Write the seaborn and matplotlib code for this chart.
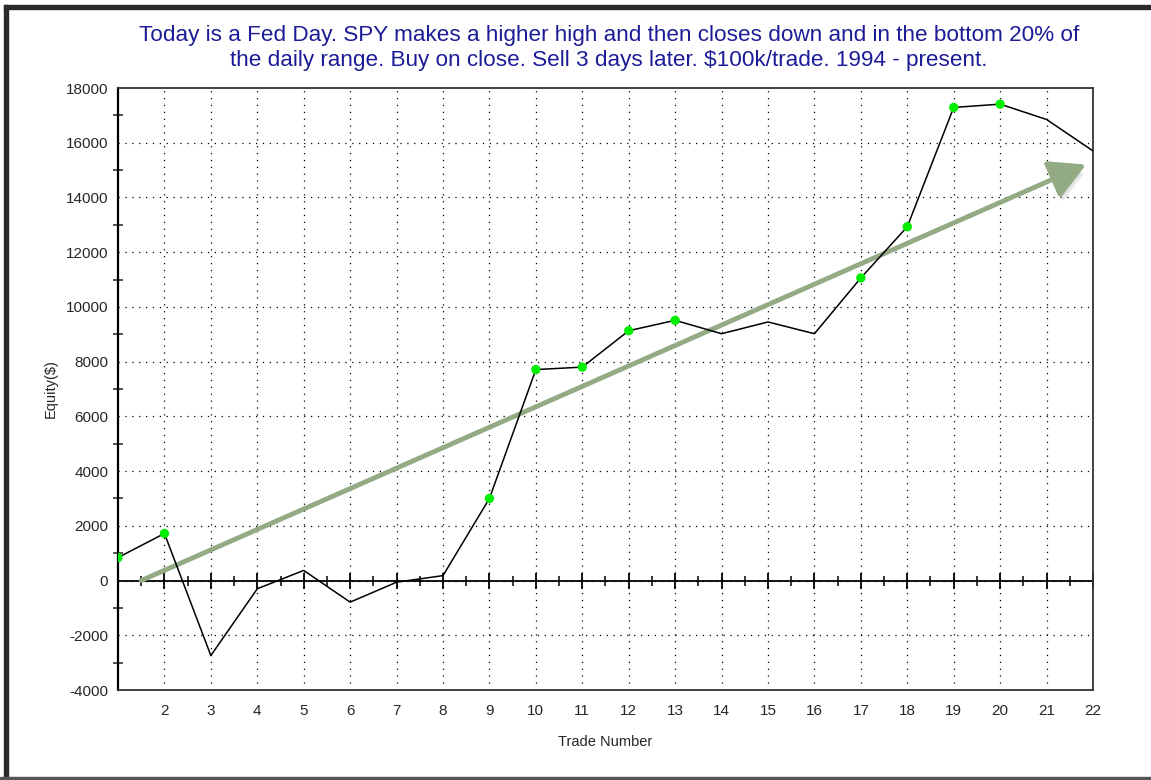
import numpy as np
import pandas as pd
import seaborn as sns
import matplotlib.pyplot as plt
import matplotlib.patheffects as pe
from matplotlib.patches import Rectangle

# Equity curve per trade
trades = list(range(1, 23))
equity = [840, 1720, -2740, -300, 370, -790, -60, 180, 3000, 7710, 7800,
          9130, 9510, 9020, 9450, 9020, 11060, 12930, 17290, 17410, 16850, 15700]
# trend arrow (start / end in data units)
arrow_start = (1.5, 0)
arrow_end = (21.85, 15200)

title = ("Today is a Fed Day. SPY makes a higher high and then closes down and in the bottom 20% of\n"
         "the daily range. Buy on close. Sell 3 days later. $100k/trade. 1994 - present.")

df = pd.DataFrame({"trade": trades, "equity": equity})
df["high"] = df["equity"] >= df["equity"].cummax()

sns.set_style("white")
plt.rcParams["font.family"] = ["Liberation Sans", "DejaVu Sans"]
plt.rcParams["axes.unicode_minus"] = False

fig = plt.figure(figsize=(11.51, 7.8), dpi=100)
ax = fig.add_axes([118 / 1151, 1 - 690 / 780, (1093 - 118) / 1151, (690 - 88) / 780])

ax.set_xlim(1, 22)
ax.set_ylim(-4000, 18000)

# dotted grid
for x in range(2, 22):
    ax.axvline(x, color="black", lw=0.9, ls=(0, (1, 4.5)), zorder=0)
for y in range(-2000, 18000, 2000):
    ax.axhline(y, color="black", lw=0.9, ls=(0, (1, 4.5)), zorder=0)

# zero line with tick marks
ax.axhline(0, color="black", lw=1.3, zorder=1)
ax.plot(np.arange(2, 22.5, 1), np.zeros(21), ls="none", marker="|", ms=11, mew=1.3, color="black", zorder=1)
ax.plot(np.arange(1.5, 22, 1), np.zeros(21), ls="none", marker="|", ms=7, mew=1.1, color="black", zorder=1)

# trend arrow with soft shadow
ax.annotate("", xy=arrow_end, xytext=arrow_start,
            arrowprops=dict(arrowstyle="-|>,head_length=1.1,head_width=0.6", lw=3.5,
                            color="#93ab84", mutation_scale=20, shrinkA=0, shrinkB=0,
                            path_effects=[pe.SimplePatchShadow(offset=(2, -5), shadow_rgbFace="#888888", alpha=0.18),
                                          pe.SimplePatchShadow(offset=(1, -3), shadow_rgbFace="#888888", alpha=0.15),
                                          pe.Normal()]),
            zorder=2)

sns.lineplot(data=df, x="trade", y="equity", color="black", lw=1.1, ax=ax, zorder=3)
sns.scatterplot(data=df[df["high"]], x="trade", y="equity", color="#00ee00", s=45,
                edgecolor="none", ax=ax, zorder=4)

ax.set_xticks(range(2, 23))
ax.set_yticks(range(-4000, 18001, 2000))
ax.set_yticks(range(-3000, 18000, 2000), minor=True)
ax.tick_params(axis="x", length=0, labelsize=11, pad=10)
ax.tick_params(axis="y", which="major", direction="inout", length=10, width=1.3, labelsize=11, pad=2)
ax.tick_params(axis="y", which="minor", direction="inout", length=7, width=1.1, left=True)
for s in ax.spines.values():
    s.set_color("#333333")
    s.set_linewidth(1.3)
ax.spines["left"].set_color("black")
ax.spines["left"].set_linewidth(1.6)

ax.set_xlabel("Trade Number", fontsize=10.5, labelpad=12)
ax.set_ylabel("Equity($)", fontsize=10.5, labelpad=6)
fig.text(0.529, 0.968, title, ha="center", va="top", fontsize=16.2, color="#1c1c96", linespacing=1.25)

# window frame
fig.patches.append(Rectangle((4 / 1151, 0), 4 / 1151, 1 - 5 / 780, transform=fig.transFigure,
                             color="#2a2a2a", zorder=10))
fig.patches.append(Rectangle((4 / 1151, 1 - 9 / 780), 1, 4 / 780, transform=fig.transFigure,
                             color="#2a2a2a", zorder=10))
fig.patches.append(Rectangle((0, 0), 1, 3 / 780, transform=fig.transFigure,
                             color="#555555", zorder=10))

fig.savefig("out.png", dpi=100)
